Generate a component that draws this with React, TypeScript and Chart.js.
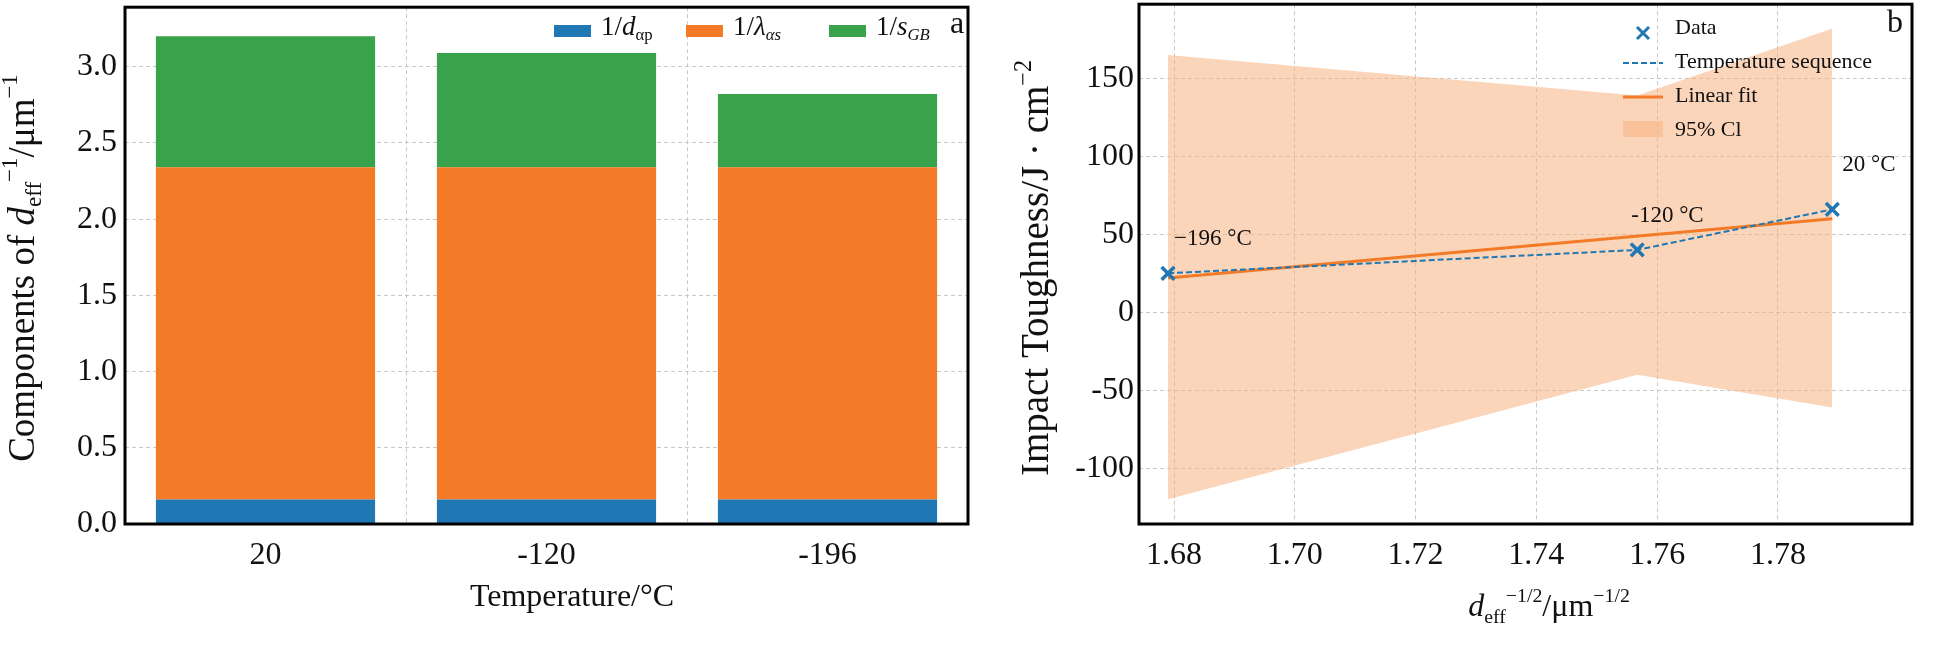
import React, { useEffect, useRef } from "react";
import { Chart, registerables } from "chart.js";
Chart.register(...registerables);

const categories = ["20", "-120", "-196"];
const dAlphaP = [0.16, 0.16, 0.16];
const lambdaAlphaS = [2.18, 2.18, 2.18];
const sGB = [0.86, 0.75, 0.48];

const xData = [1.679, 1.7567, 1.789];
const yData = [25, 40, 66];
const tempLabels = ["\u2212196 \u00B0C", "-120 \u00B0C", "20 \u00B0C"];
const fitX = [1.679, 1.789];
const fitY = [22, 60];
const ciX = [1.679, 1.7567, 1.789];
const ciUpper = [165, 139, 182];
const ciLower = [-120, -40, -61];

const SERIF = "'Liberation Serif', 'DejaVu Serif', serif";
const BLUE = "#1f77b4";
const ORANGE = "#f37b28";
const GREEN = "#38a34a";
const OFF = 20;

type Seg = { t: string; k?: "n" | "sub" | "sup"; i?: boolean };
function richWidth(ctx: CanvasRenderingContext2D, segs: Seg[], size: number) {
  let w = 0;
  for (const s of segs) {
    const sz = s.k && s.k !== "n" ? size * 0.62 : size;
    ctx.font = `${s.i ? "italic " : ""}${sz}px ${SERIF}`;
    w += ctx.measureText(s.t).width;
  }
  return w;
}
function drawRich(ctx: CanvasRenderingContext2D, segs: Seg[], x: number, y: number, size: number, align: "left" | "center" = "left") {
  let cx = align === "center" ? x - richWidth(ctx, segs, size) / 2 : x;
  ctx.textBaseline = "middle";
  ctx.textAlign = "left";
  ctx.fillStyle = "#111";
  for (const s of segs) {
    const small = s.k && s.k !== "n";
    const sz = small ? size * 0.62 : size;
    ctx.font = `${s.i ? "italic " : ""}${sz}px ${SERIF}`;
    const dy = s.k === "sub" ? size * 0.3 : s.k === "sup" ? -size * 0.35 : 0;
    ctx.fillText(s.t, cx, y + dy);
    cx += ctx.measureText(s.t).width;
  }
}

const frame = {
  id: "frame",
  afterDraw(chart: any) {
    const { ctx, chartArea: a } = chart;
    ctx.save();
    ctx.strokeStyle = "#000";
    ctx.lineWidth = 3;
    ctx.strokeRect(a.left, a.top, a.right - a.left, a.bottom - a.top);
    ctx.restore();
  },
};

const TICKFONT = { family: SERIF, size: 32 };
const gridOpts = { color: "#c8c8c8", drawTicks: false };
const borderOpts = { display: false, dash: [4, 3] };

export default function App() {
  const c1 = useRef<HTMLCanvasElement>(null);
  const c2 = useRef<HTMLCanvasElement>(null);
  useEffect(() => {
    const leftDeco = {
      id: "leftDeco",
      afterDraw(chart: any) {
        const ctx = chart.ctx;
        ctx.save();
        drawRich(ctx, [{ t: "Temperature/\u00B0C" }], 572, 598 + OFF, 32, "center");
        ctx.translate(24, 268 + OFF);
        ctx.rotate(-Math.PI / 2);
        drawRich(ctx, [{ t: "Components of " }, { t: "d", i: true }, { t: "eff", k: "sub" }, { t: "\u22121", k: "sup" }, { t: "/\u03BCm" }, { t: "\u22121", k: "sup" }], 0, 0, 37, "center");
        ctx.restore();
        ctx.save();
        const items: [string, Seg[]][] = [
          [BLUE, [{ t: "1/" }, { t: "d", i: true }, { t: "\u03B1p", k: "sub" }]],
          [ORANGE, [{ t: "1/" }, { t: "\u03BB", i: true }, { t: "\u03B1s", k: "sub", i: true }]],
          [GREEN, [{ t: "1/" }, { t: "s", i: true }, { t: "GB", k: "sub", i: true }]],
        ];
        const xs = [554, 686, 829];
        items.forEach(([c, segs], i) => {
          ctx.fillStyle = c;
          ctx.fillRect(xs[i], 25 + OFF, 37, 12);
          drawRich(ctx, segs, xs[i] + 47, 28 + OFF, 27);
        });
        drawRich(ctx, [{ t: "a" }], 950, 25 + OFF, 32);
        ctx.restore();
      },
    };
    const ch1 = new Chart(c1.current!, {
      type: "bar",
      data: {
        labels: categories,
        datasets: [
          { label: "1/d", data: dAlphaP, backgroundColor: BLUE },
          { label: "1/λ", data: lambdaAlphaS, backgroundColor: ORANGE },
          { label: "1/s", data: sGB, backgroundColor: GREEN },
        ],
      },
      options: {
        animation: false, responsive: false,
        layout: { padding: { top: 2, right: 7, left: 0, bottom: 0 } },
        datasets: { bar: { barPercentage: 0.78, categoryPercentage: 1 } },
        plugins: { legend: { display: false }, tooltip: { enabled: false } },
        scales: {
          x: { stacked: true, border: borderOpts, grid: gridOpts,
            ticks: { font: TICKFONT, color: "#111", padding: 12 },
            afterFit: (s: any) => { s.height = 131; } } as any,
          y: { stacked: true, min: 0, max: 3.39, border: borderOpts, grid: gridOpts,
            ticks: { font: TICKFONT, color: "#111", stepSize: 0.5, padding: 8, callback: (v: any) => (v > 3.2 ? "" : Number(v).toFixed(1)) },
            afterFit: (s: any) => { s.width = 125; } } as any,
        },
      },
      plugins: [frame, leftDeco],
    });

    const rightDeco = {
      id: "rightDeco",
      afterDatasetsDraw(chart: any) {
        const ctx = chart.ctx;
        const xs = chart.scales.x, ys = chart.scales.y;
        ctx.save();
        const offs = [[6, -20], [-6, -20], [10, -30]];
        xData.forEach((x, i) => {
          drawRich(ctx, [{ t: tempLabels[i] }], xs.getPixelForValue(x) + offs[i][0], ys.getPixelForValue(yData[i]) + offs[i][1] - 14, 23);
        });
        ctx.save();
        ctx.translate(1038 - 975, 268 + OFF);
        ctx.rotate(-Math.PI / 2);
        drawRich(ctx, [{ t: "Impact Toughness/J \u00B7 cm" }, { t: "\u22122", k: "sup" }], 0, 0, 39, "center");
        ctx.restore();
        drawRich(ctx, [{ t: "d", i: true }, { t: "eff", k: "sub" }, { t: "\u22121/2", k: "sup" }, { t: "/\u03BCm" }, { t: "\u22121/2", k: "sup" }], 1549 - 975, 608 + OFF, 32, "center");
        const lx = 1643 - 975, tx = 1675 - 975;
        ctx.strokeStyle = BLUE; ctx.lineWidth = 3;
        ctx.beginPath(); ctx.moveTo(lx - 6, 27 + OFF); ctx.lineTo(lx + 6, 39 + OFF); ctx.moveTo(lx + 6, 27 + OFF); ctx.lineTo(lx - 6, 39 + OFF); ctx.stroke();
        drawRich(ctx, [{ t: "Data" }], tx, 28 + OFF, 22);
        ctx.lineWidth = 2; ctx.setLineDash([6, 3]);
        ctx.beginPath(); ctx.moveTo(lx - 20, 63 + OFF); ctx.lineTo(lx + 20, 63 + OFF); ctx.stroke();
        ctx.setLineDash([]);
        drawRich(ctx, [{ t: "Temperature sequence" }], tx, 62 + OFF, 22);
        ctx.strokeStyle = ORANGE; ctx.lineWidth = 3;
        ctx.beginPath(); ctx.moveTo(lx - 20, 97 + OFF); ctx.lineTo(lx + 20, 97 + OFF); ctx.stroke();
        drawRich(ctx, [{ t: "Linear fit" }], tx, 96 + OFF, 22);
        ctx.fillStyle = "rgba(248,178,130,0.55)";
        ctx.fillRect(lx - 20, 121 + OFF, 40, 16);
        drawRich(ctx, [{ t: "95% Cl" }], tx, 130 + OFF, 22);
        drawRich(ctx, [{ t: "b" }], 1887 - 975, 24 + OFF, 32);
        ctx.restore();
      },
    };
    const pts = (xa: number[], ya: number[]) => xa.map((x, i) => ({ x, y: ya[i] }));
    const ch2 = new Chart(c2.current!, {
      type: "scatter",
      data: {
        datasets: [
          { label: "upper", data: pts(ciX, ciUpper), showLine: true, borderWidth: 0, pointRadius: 0, fill: "+1", backgroundColor: "rgba(248,178,130,0.55)", order: 5 } as any,
          { label: "lower", data: pts(ciX, ciLower), showLine: true, borderWidth: 0, pointRadius: 0, fill: false, order: 5 },
          { label: "fit", data: pts(fitX, fitY), showLine: true, borderColor: ORANGE, borderWidth: 3, pointRadius: 0, order: 3 },
          { label: "seq", data: pts(xData, yData), showLine: true, borderColor: BLUE, borderWidth: 2, borderDash: [6, 3], pointRadius: 0, order: 2 },
          { label: "data", data: pts(xData, yData), pointStyle: "cross", rotation: 45, pointRadius: 9, borderColor: BLUE, borderWidth: 3.5, order: 1 } as any,
        ],
      },
      options: {
        animation: false, responsive: false,
        layout: { padding: { top: 2, right: 27, left: 0, bottom: 0 } },
        plugins: { legend: { display: false }, tooltip: { enabled: false } },
        scales: {
          x: { type: "linear", min: 1.6742, max: 1.8022, border: borderOpts, grid: gridOpts,
            ticks: { font: TICKFONT, color: "#111", padding: 12, callback: (v: any) => Number(v).toFixed(2) },
            afterBuildTicks: (s: any) => { s.ticks = [1.68, 1.70, 1.72, 1.74, 1.76, 1.78].map((v) => ({ value: v })); },
            afterFit: (s: any) => { s.height = 131; } } as any,
          y: { min: -135.8, max: 197.6, border: borderOpts, grid: gridOpts,
            ticks: { font: TICKFONT, color: "#111", padding: 5 },
            afterBuildTicks: (s: any) => { s.ticks = [-100, -50, 0, 50, 100, 150].map((v) => ({ value: v })); },
            afterFit: (s: any) => { s.width = 164; } } as any,
        },
      },
      plugins: [frame, rightDeco],
    });
    return () => { ch1.destroy(); ch2.destroy(); };
  }, []);
  return (
    <div style={{ position: "absolute", left: 0, top: 0, width: 1939, height: 655, background: "#fff", overflow: "hidden" }}>
      <canvas ref={c1} width={975} height={675} style={{ position: "absolute", left: 0, top: -OFF }} />
      <canvas ref={c2} width={964} height={675} style={{ position: "absolute", left: 975, top: -OFF }} />
    </div>
  );
}
